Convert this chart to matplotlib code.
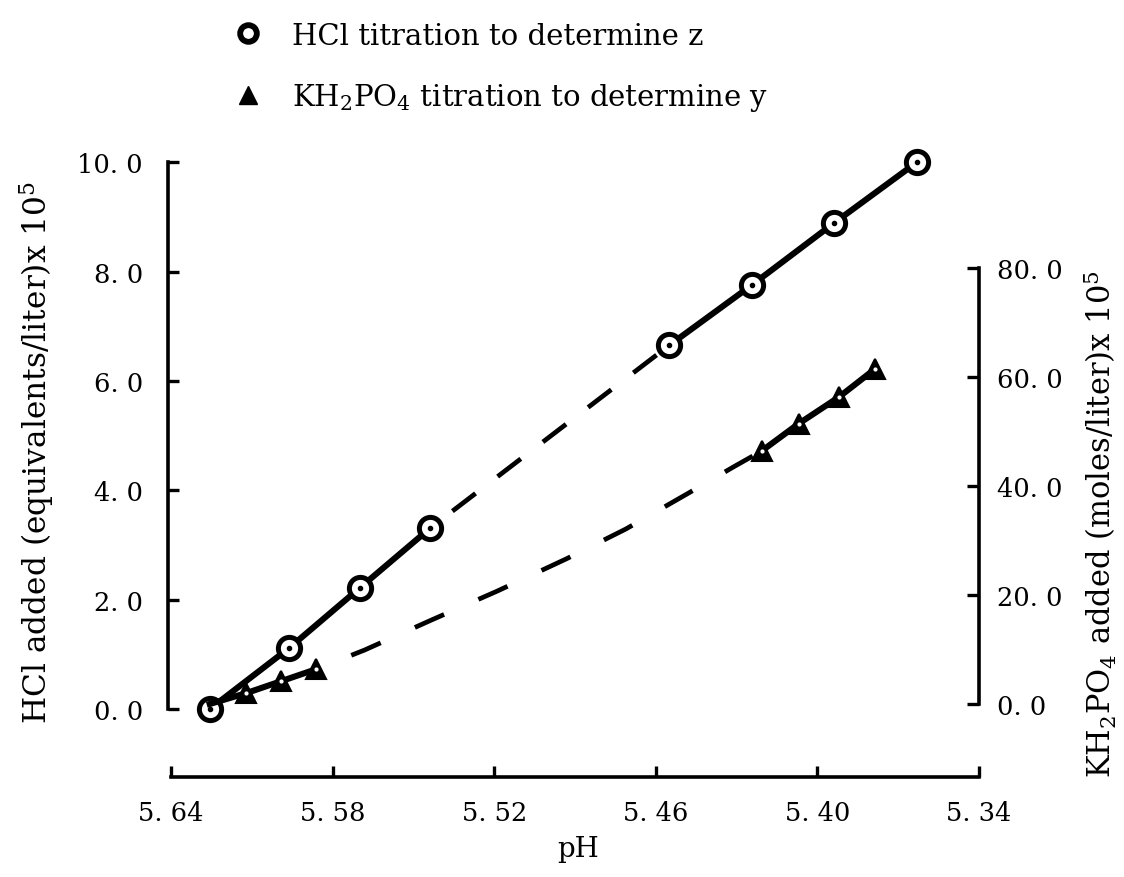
import matplotlib
matplotlib.use("Agg")
import matplotlib.pyplot as plt
from matplotlib.lines import Line2D

plt.rcParams['font.family'] = ['DejaVu Serif']
plt.rcParams['mathtext.fontset'] = 'dejavuserif'
plt.rcParams['mathtext.default'] = 'regular'
plt.rcParams['lines.scale_dashes'] = False

# HCl titration (left axis, equivalents/liter x 1e5)
hcl_ph = [5.6256, 5.596, 5.570, 5.5437, 5.455, 5.4244, 5.394, 5.363]
hcl_val = [0.0, 1.12, 2.21, 3.31, 6.65, 7.75, 8.88, 10.0]
# KH2PO4 titration (right axis, moles/liter x 1e5)
kh_ph = [5.6256, 5.612, 5.599, 5.586, 5.4207, 5.407, 5.392, 5.3785]
kh_val = [0.0, 2.0, 4.2, 6.4, 46.4, 51.4, 56.3, 61.5]
# dashed interpolation drawn in the original between the two groups
kh_dash_ph = [5.586, 5.5681, 5.5433, 5.5189, 5.4933, 5.4711, 5.4485, 5.4311, 5.4207]
kh_dash_val = [6.4, 9.9, 15.4, 20.7, 26.6, 32.1, 38.5, 43.5, 46.4]

xticks = [5.64, 5.58, 5.52, 5.46, 5.40, 5.34]
xtick_labels = ["5. 64", "5. 58", "5. 52", "5. 46", "5. 40", "5. 34"]
yticks_left = [0, 2, 4, 6, 8, 10]
ytick_labels_left = ["0. 0", "2. 0", "4. 0", "6. 0", "8. 0", "10. 0"]
yticks_right = [0, 20, 40, 60, 80]
ytick_labels_right = ["0. 0", "20. 0", "40. 0", "60. 0", "80. 0"]

fig = plt.figure(figsize=(11.24, 8.78), dpi=100)
ax = fig.add_axes([168 / 1124, 153 / 878, 811 / 1124, 575 / 878])
ax2 = ax.twinx()

ax.set_xlim(5.6411, 5.3407)
ax.set_ylim(-0.274, 10.24)
ax2.set_ylim(-3.67, 101.8)

lw = 4.4
# HCl curve
ax.plot(hcl_ph[:4], hcl_val[:4], color='black', lw=lw, zorder=2)
ax.plot(hcl_ph[4:], hcl_val[4:], color='black', lw=lw, zorder=2)
ax.plot(hcl_ph[3:5], hcl_val[3:5], color='black', lw=3.4,
        linestyle=(21, (21, 20)), zorder=2)
ax.plot(hcl_ph, hcl_val, ls='none', marker='o', ms=16, mfc='white',
        mec='black', mew=3.6, zorder=4, clip_on=False)
ax.plot(hcl_ph, hcl_val, ls='none', marker='o', ms=3.0, color='black',
        zorder=5, clip_on=False)

# KH2PO4 curve
ax2.plot(kh_ph[:4], kh_val[:4], color='black', lw=lw, zorder=2)
ax2.plot(kh_ph[4:], kh_val[4:], color='black', lw=lw, zorder=2)
ax2.plot(kh_dash_ph, kh_dash_val, color='black', lw=3.4,
         linestyle=(23, (23, 27)), zorder=2)
ax2.plot(kh_ph[1:], kh_val[1:], ls='none', marker='^', ms=15, color='black',
         mew=1.5, zorder=4)
ax2.plot(kh_ph[1:], kh_val[1:], ls='none', marker='o', ms=2.0, color='white',
         zorder=5)

# spines
for s in ['top', 'right']:
    ax.spines[s].set_visible(False)
for s in ['top', 'left', 'bottom']:
    ax2.spines[s].set_visible(False)
ax.spines['left'].set_bounds(0, 10)
ax.spines['bottom'].set_bounds(5.64, 5.34)
ax.spines['bottom'].set_position(('outward', 38))
ax2.spines['right'].set_bounds(0, 80)
for sp in [ax.spines['left'], ax.spines['bottom'], ax2.spines['right']]:
    sp.set_linewidth(2.6)

ax.set_xticks(xticks)
ax.set_xticklabels(xtick_labels)
ax.set_yticks(yticks_left)
ax.set_yticklabels(ytick_labels_left)
ax2.set_yticks(yticks_right)
ax2.set_yticklabels(ytick_labels_right)

ax.tick_params(axis='x', direction='in', length=8, width=2.4, pad=17, labelsize=18.5)
ax.tick_params(axis='y', direction='in', length=8, width=2.4, pad=18, labelsize=18.5)
ax2.tick_params(axis='y', direction='in', length=9, width=2.4, pad=13, labelsize=18.5)

ax.set_xlabel('pH', fontsize=20)
ax.xaxis.set_label_coords((578 - 168) / 811, -(836 - 725) / 575)
fig.text(37 / 1124, 1 - 452 / 878, 'HCl added (equivalents/liter)x 10$^5$',
         rotation=90, ha='center', va='center', fontsize=22.5)
fig.text(1100 / 1124, 1 - 524 / 878, 'KH$_2$PO$_4$ added (moles/liter)x 10$^5$',
         rotation=90, ha='center', va='center', fontsize=22)

handles = [
    Line2D([], [], ls='none', marker='o', ms=12, mfc='white', mec='black', mew=4.2),
    Line2D([], [], ls='none', marker='^', ms=13, color='black'),
]
labels = ['HCl titration to determine z', 'KH$_2$PO$_4$ titration to determine y']
fig.legend(handles, labels, loc='upper left', bbox_to_anchor=(222 / 1124, 1 - 11 / 878),
           frameon=False, fontsize=21, labelspacing=1.08, handlelength=1.0,
           handletextpad=1.0, borderaxespad=0)

fig.savefig('out.png', dpi=100)
